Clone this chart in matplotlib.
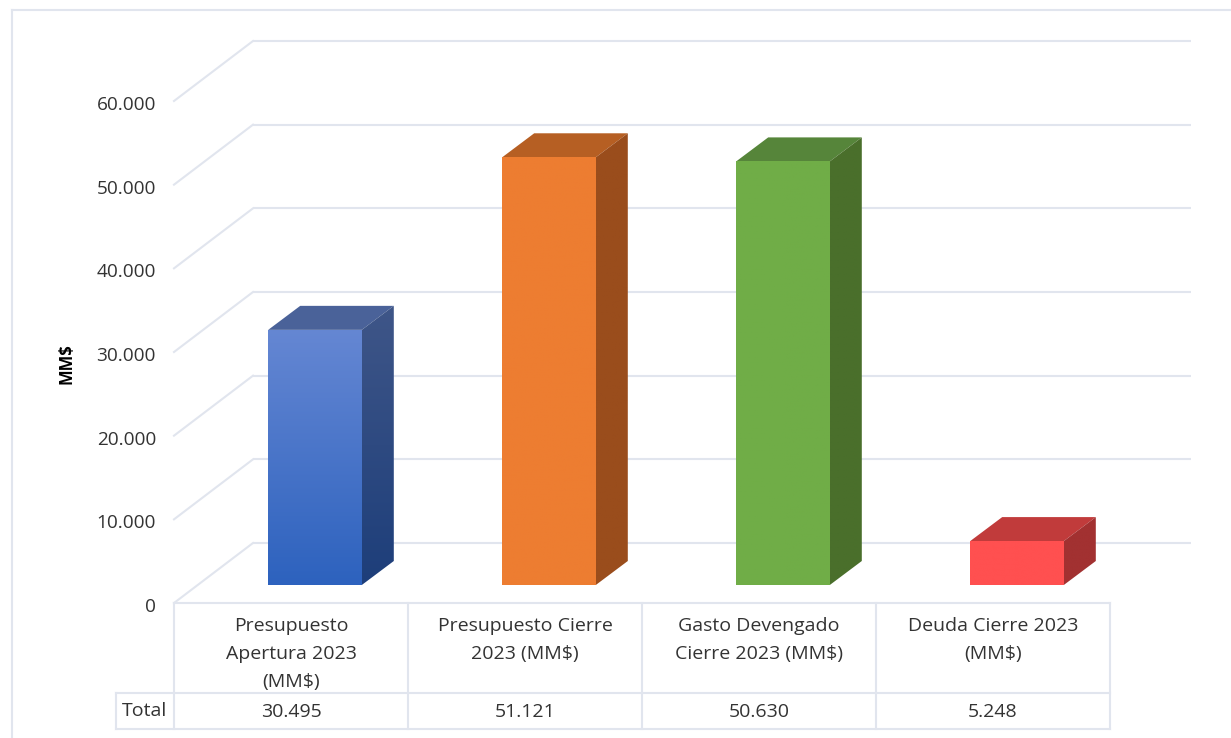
import matplotlib
matplotlib.use('Agg')
import matplotlib.pyplot as plt
import numpy as np
from matplotlib.colors import LinearSegmentedColormap
from matplotlib.lines import Line2D
from matplotlib.patches import Polygon
from matplotlib.transforms import Affine2D

plt.rcParams['font.family'] = ['Open Sans', 'DejaVu Sans']

categories = ['Presupuesto\nApertura 2023\n(MM$)', 'Presupuesto Cierre\n2023 (MM$)',
              'Gasto Devengado\nCierre 2023 (MM$)', 'Deuda Cierre 2023\n(MM$)']
values = [30495, 51121, 50630, 5248]
value_labels = ['30.495', '51.121', '50.630', '5.248']
yticks = [0, 10000, 20000, 30000, 40000, 50000, 60000]
ytick_labels = ['0', '10.000', '20.000', '30.000', '40.000', '50.000', '60.000']

front_colors = [('#6587D3', '#2D62BE'), ('#ED7D31', '#ED7D31'), ('#70AD47', '#70AD47'), ('#FF5050', '#FF5050')]
side_colors = [('#3F5688', '#1D3E7A'), ('#9A4D1C', '#9A4D1C'), ('#4A6F2B', '#4A6F2B'), ('#A23131', '#A23131')]
top_colors = ['#4A6299', '#B65F23', '#56853A', '#C13B3B']

GRID = '#E1E5EE'
TEXT = '#333333'
W, H = 1231, 738
LEFT, RIGHT, Y0, Y60 = 174, 1110, 603, 101
FLOOR_DX, FLOOR_DY = 79, 60      # fondo del piso 3D, en pixeles
BAR_DX, BAR_DY = 24, 18          # cara frontal de las barras
SIDE_DX, SIDE_DY = 32, 24        # profundidad de las barras
BAR_W = 0.4
FS = 14

fig = plt.figure(figsize=(W / 100, H / 100), dpi=100, facecolor='white')
ax = fig.add_axes([LEFT / W, (H - Y0) / H, (RIGHT - LEFT) / W, (Y0 - Y60) / H])
ax.patch.set_alpha(0)
for s in ax.spines.values():
    s.set_visible(False)
ax.set_xlim(0, 4)
ax.set_ylim(0, 60000)
ax.set_xticks([])
ax.set_yticks(yticks)
ax.set_yticklabels(ytick_labels, color=TEXT, fontsize=13.7)
ax.tick_params(axis='y', length=0, pad=13)
for lab in ax.get_yticklabels():
    lab.set_transform(lab.get_transform() + Affine2D().translate(0, -2))
ax.set_ylabel('MM$', fontsize=12, fontweight='bold', color='black')
ax.yaxis.set_label_coords(-98 / (RIGHT - LEFT), (Y0 - 364) / (Y0 - Y60))

shift_back = ax.transData + Affine2D().translate(FLOOR_DX, FLOOR_DY)
shift_front = ax.transData + Affine2D().translate(BAR_DX, BAR_DY)
unit_x = 4 / (RIGHT - LEFT)
unit_y = 60000 / (Y0 - Y60)

# paredes: lineas de grilla atras y diagonal a la izquierda
ax.hlines(yticks, 0, 4 + 2 * unit_x, colors=GRID, linewidth=1.5, transform=shift_back, zorder=1, clip_on=False)
for t in yticks:
    ax.plot([0, FLOOR_DX * unit_x], [t, t + FLOOR_DY * unit_y], color=GRID, lw=1.5, zorder=1, clip_on=False)


def gradient(c_top, c_bottom, extent, clip):
    cmap = LinearSegmentedColormap.from_list('g', [c_top, c_bottom])
    im = ax.imshow(np.linspace(0, 1, 256).reshape(-1, 1), cmap=cmap, extent=extent, aspect='auto',
                   origin='upper', transform=shift_front, zorder=3)
    im.set_clip_path(clip)
    im.set_clip_on(True)


for i, v in enumerate(values):
    x0 = i + 0.5 - BAR_W / 2
    x1 = i + 0.5 + BAR_W / 2
    ddx = SIDE_DX * unit_x
    ddy = SIDE_DY * unit_y

    top = Polygon([(x0, v), (x1, v), (x1 + ddx, v + ddy), (x0 + ddx, v + ddy)], closed=True,
                  facecolor=top_colors[i], edgecolor='none', transform=shift_front, zorder=3, clip_on=False)
    ax.add_patch(top)

    side = Polygon([(x1, 0), (x1 + ddx, ddy), (x1 + ddx, v + ddy), (x1, v)], closed=True,
                   facecolor='none', edgecolor='none', transform=shift_front, zorder=3)
    ax.add_patch(side)
    gradient(side_colors[i][0], side_colors[i][1], (x1, x1 + ddx, 0, v + ddy), side)

    front = Polygon([(x0, 0), (x1, 0), (x1, v), (x0, v)], closed=True,
                    facecolor='none', edgecolor='none', transform=shift_front, zorder=3)
    ax.add_patch(front)
    gradient(front_colors[i][0], front_colors[i][1], (x0, x1, 0, v), front)

ax.set_xlim(0, 4)
ax.set_ylim(0, 60000)

# tabla de datos bajo el eje
tr = ax.get_xaxis_transform()


def py(y):
    return (Y0 - y) / (Y0 - Y60)


ROW1, ROW2 = 693, 729
total_left = -(LEFT - 116) * unit_x
ax.plot([0, 4], [py(Y0)] * 2, color=GRID, lw=1.5, transform=tr, clip_on=False)
ax.plot([total_left, 4], [py(ROW1)] * 2, color=GRID, lw=1.5, transform=tr, clip_on=False)
ax.plot([total_left, 4], [py(ROW2)] * 2, color=GRID, lw=1.5, transform=tr, clip_on=False)
ax.plot([total_left, total_left], [py(ROW1), py(ROW2)], color=GRID, lw=1.5, transform=tr, clip_on=False)
for i in range(5):
    ax.plot([i, i], [py(Y0), py(ROW2)], color=GRID, lw=1.5, transform=tr, clip_on=False)

for i, name in enumerate(categories):
    for j, line in enumerate(name.split('\n')):
        ax.text(i + 0.5, py(626 + 28 * j), line, transform=tr, ha='center', va='center',
                fontsize=FS, color=TEXT, clip_on=False)
    ax.text(i + 0.5, py(712), value_labels[i], transform=tr, ha='center', va='center',
            fontsize=FS, color=TEXT, clip_on=False)
ax.text((total_left + 0) / 2, py(711), 'Total', transform=tr, ha='center', va='center',
        fontsize=FS, color=TEXT, clip_on=False)

# marco de la imagen
fig.add_artist(Line2D([12 / W, 12 / W], [0, 1 - 10 / H], color=GRID, lw=1.5))
fig.add_artist(Line2D([12 / W, 1], [1 - 10 / H, 1 - 10 / H], color=GRID, lw=1.5))

fig.savefig('out.png', dpi=100, facecolor='white')
